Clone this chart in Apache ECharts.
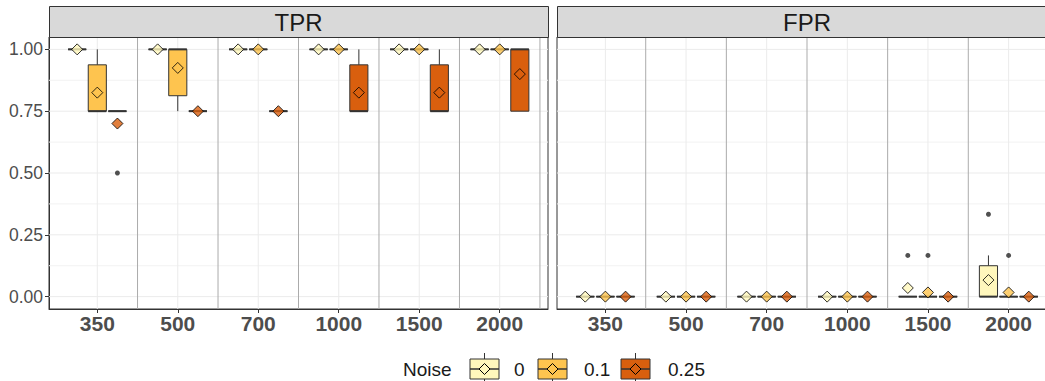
<!DOCTYPE html>
<html>
<head>
<meta charset="utf-8">
<script src="https://cdn.jsdelivr.net/npm/echarts@6/dist/echarts.min.js"></script>
<style>
  html, body { margin: 0; padding: 0; background: #fff; }
  #chart { width: 1045px; height: 381px; }
</style>
</head>
<body>
<div id="chart"></div>
<script>
// ---------------- data ----------------
const categories = ['350', '500', '700', '1000', '1500', '2000'];
const noiseLevels = ['0', '0.1', '0.25'];
const panelTitles = ['TPR', 'FPR'];
const yTicks = [0, 0.25, 0.5, 0.75, 1];
const yMinorTicks = [0.125, 0.375, 0.625, 0.875];
const noiseColors = ['#FFF7BC', '#FEC44F', '#D95F0E'];

// box stats per category: [lower whisker, Q1, median, Q3, upper whisker]
const tprBoxNoise0 = [[1,1,1,1,1],[1,1,1,1,1],[1,1,1,1,1],[1,1,1,1,1],[1,1,1,1,1],[1,1,1,1,1]];
const tprBoxNoise01 = [[0.75,0.75,0.75,0.9375,1],[0.75,0.8125,1,1,1],[1,1,1,1,1],[1,1,1,1,1],[1,1,1,1,1],[1,1,1,1,1]];
const tprBoxNoise025 = [[0.75,0.75,0.75,0.75,0.75],[0.75,0.75,0.75,0.75,0.75],[0.75,0.75,0.75,0.75,0.75],[0.75,0.75,0.75,0.9375,1],[0.75,0.75,0.75,0.9375,1],[0.75,0.75,1,1,1]];
const tprMeanNoise0 = [1, 1, 1, 1, 1, 1];
const tprMeanNoise01 = [0.825, 0.925, 1, 1, 1, 1];
const tprMeanNoise025 = [0.7, 0.75, 0.75, 0.825, 0.825, 0.9];
// outliers: [category, noise, value]
const tprOutliers = [['350', '0.25', 0.5]];

const fprBoxNoise0 = [[0,0,0,0,0],[0,0,0,0,0],[0,0,0,0,0],[0,0,0,0,0],[0,0,0,0,0],[0,0,0,0.125,0.1667]];
const fprBoxNoise01 = [[0,0,0,0,0],[0,0,0,0,0],[0,0,0,0,0],[0,0,0,0,0],[0,0,0,0,0],[0,0,0,0,0]];
const fprBoxNoise025 = [[0,0,0,0,0],[0,0,0,0,0],[0,0,0,0,0],[0,0,0,0,0],[0,0,0,0,0],[0,0,0,0,0]];
const fprMeanNoise0 = [0, 0, 0, 0, 0.035, 0.067];
const fprMeanNoise01 = [0, 0, 0, 0, 0.017, 0.017];
const fprMeanNoise025 = [0, 0, 0, 0, 0, 0];
const fprOutliers = [['1500', '0', 0.1667], ['1500', '0.1', 0.1667], ['2000', '0', 0.3333], ['2000', '0.1', 0.1667]];

// ---------------- layout ----------------
const FONT = '"Liberation Sans", Arial, sans-serif';
const DODGE = 0.25;
const BOX_W = 0.225;
const panels = [
  { box: [tprBoxNoise0, tprBoxNoise01, tprBoxNoise025], mean: [tprMeanNoise0, tprMeanNoise01, tprMeanNoise025], out: tprOutliers },
  { box: [fprBoxNoise0, fprBoxNoise01, fprBoxNoise025], mean: [fprMeanNoise0, fprMeanNoise01, fprMeanNoise025], out: fprOutliers }
];
const gridDefs = [
  { left: 49, top: 37, width: 499, height: 272 },
  { left: 557, top: 37, width: 500, height: 272 }
];
const catPos = (ci) => ci + 1;
const grpPos = (ci, gi) => catPos(ci) + (gi - 1) * DODGE;

function hLineRender(params, api) {
  const cs = params.coordSys;
  const y = api.coord([1, api.value(1)])[1];
  return { type: 'line', shape: { x1: cs.x, y1: y, x2: cs.x + cs.width, y2: y },
    style: { stroke: api.visual('color'), lineWidth: 1 } };
}
function vLineRender(params, api) {
  const cs = params.coordSys;
  const x = api.coord([api.value(0), 0])[0];
  return { type: 'line', shape: { x1: x, y1: cs.y, x2: x, y2: cs.y + cs.height },
    style: { stroke: api.visual('color'), lineWidth: 1 } };
}
function boxRender(params, api) {
  const x = api.value(0);
  const c = (v) => api.coord([x, v]);
  const pLo = c(api.value(1)), pQ1 = c(api.value(2)), pMed = c(api.value(3)), pQ3 = c(api.value(4)), pHi = c(api.value(5));
  const w = api.size([BOX_W, 0])[0];
  const cx = pQ1[0], left = cx - w / 2;
  return { type: 'group', children: [
    { type: 'line', shape: { x1: cx, y1: pLo[1], x2: cx, y2: pQ1[1] }, style: { stroke: '#333', lineWidth: 1 } },
    { type: 'line', shape: { x1: cx, y1: pQ3[1], x2: cx, y2: pHi[1] }, style: { stroke: '#333', lineWidth: 1 } },
    { type: 'rect', shape: { x: left, y: pQ3[1], width: w, height: pQ1[1] - pQ3[1] },
      style: { fill: api.visual('color'), stroke: '#333', lineWidth: 1 } },
    { type: 'line', shape: { x1: left, y1: pMed[1], x2: left + w, y2: pMed[1] }, style: { stroke: '#333', lineWidth: 2 } }
  ] };
}

const grids = [], xAxes = [], yAxes = [], series = [], graphics = [];
panels.forEach((p, pi) => {
  const g = gridDefs[pi];
  grids.push(Object.assign({ show: true, borderColor: '#333', borderWidth: 1, backgroundColor: '#fff',
    containLabel: false, outerBoundsMode: 'none' }, g));
  xAxes.push({
    type: 'value', gridIndex: pi, min: 0.4, max: 6.6,
    axisLine: { show: true, onZero: false, lineStyle: { color: '#333', width: 1 } },
    axisTick: { show: true, length: 4, lineStyle: { color: '#333' }, customValues: categories.map((c, i) => catPos(i)) },
    axisLabel: { show: true, customValues: categories.map((c, i) => catPos(i)),
      formatter: (v) => categories[Math.round(v) - 1] || '',
      color: '#4D4D4D', fontSize: 21, fontWeight: 'bold', fontFamily: FONT, margin: 4 },
    splitLine: { show: false }
  });
  yAxes.push({
    type: 'value', gridIndex: pi, min: -0.05, max: 1.05,
    axisLine: { show: pi === 0, onZero: false, lineStyle: { color: '#333', width: 1 } },
    axisTick: { show: pi === 0, length: 4, lineStyle: { color: '#333' }, customValues: yTicks },
    axisLabel: { show: pi === 0, customValues: yTicks, formatter: (v) => v.toFixed(2),
      color: '#4D4D4D', fontSize: 17.5, fontFamily: FONT, margin: 6 },
    splitLine: { show: false }
  });
  // grid lines
  series.push({ type: 'custom', xAxisIndex: pi, yAxisIndex: pi, z: 1, silent: true,
    itemStyle: { color: '#F2F2F2' }, renderItem: hLineRender, encode: { x: 0, y: 1 },
    data: yMinorTicks.map(v => [1, v]) });
  series.push({ type: 'custom', xAxisIndex: pi, yAxisIndex: pi, z: 1, silent: true,
    itemStyle: { color: '#EBEBEB' }, renderItem: hLineRender, encode: { x: 0, y: 1 },
    data: yTicks.map(v => [1, v]) });
  series.push({ type: 'custom', xAxisIndex: pi, yAxisIndex: pi, z: 1, silent: true,
    itemStyle: { color: '#EBEBEB' }, renderItem: vLineRender, encode: { x: 0, y: 1 },
    data: categories.map((c, i) => [catPos(i), 0]) });
  // separators between categories
  series.push({ type: 'custom', xAxisIndex: pi, yAxisIndex: pi, z: 2, silent: true,
    itemStyle: { color: '#ABABAB' }, renderItem: vLineRender, encode: { x: 0, y: 1 },
    data: categories.map((c, i) => [catPos(i) + 0.5, 0]) });
  // boxes
  noiseLevels.forEach((nl, gi) => {
    series.push({ type: 'custom', name: nl, xAxisIndex: pi, yAxisIndex: pi, z: 3, silent: true,
      itemStyle: { color: noiseColors[gi] }, renderItem: boxRender,
      encode: { x: 0, y: [1, 2, 3, 4, 5] },
      data: p.box[gi].map((b, ci) => [grpPos(ci, gi)].concat(b)) });
  });
  // outliers
  series.push({ type: 'scatter', xAxisIndex: pi, yAxisIndex: pi, z: 4, silent: true,
    symbol: 'circle', symbolSize: 5, itemStyle: { color: '#262626' },
    data: p.out.map(o => [grpPos(categories.indexOf(o[0]), noiseLevels.indexOf(o[1])), o[2]]) });
  // means
  noiseLevels.forEach((nl, gi) => {
    series.push({ type: 'scatter', xAxisIndex: pi, yAxisIndex: pi, z: 5, silent: true,
      symbol: 'diamond', symbolSize: 11,
      itemStyle: { color: noiseColors[gi], borderColor: '#000', borderWidth: 1 },
      data: p.mean[gi].map((m, ci) => [grpPos(ci, gi), m]) });
  });
  // strip
  graphics.push({ type: 'rect', left: g.left, top: 6, z: 10,
    shape: { width: g.width, height: 31 },
    style: { fill: '#D9D9D9', stroke: '#333', lineWidth: 1 } });
  graphics.push({ type: 'text', z: 11, x: g.left + g.width / 2, y: 22,
    style: { text: panelTitles[pi], fill: '#1A1A1A', font: '24px ' + FONT, textAlign: 'center', textVerticalAlign: 'middle' } });
});

// legend
const LEG_Y = 369;
graphics.push({ type: 'text', x: 403, y: LEG_Y, style: { text: 'Noise', fill: '#1A1A1A', font: '19px ' + FONT, textVerticalAlign: 'middle' } });
const legKeyX = [470, 538, 621];
const legTextX = [514, 584, 668];
noiseLevels.forEach((nl, gi) => {
  const kx = legKeyX[gi], cx = kx + 14.5;
  graphics.push({ type: 'line', shape: { x1: cx, y1: LEG_Y - 16, x2: cx, y2: LEG_Y + 16 }, style: { stroke: '#333', lineWidth: 1 } });
  graphics.push({ type: 'rect', shape: { x: kx, y: LEG_Y - 10, width: 29, height: 20 }, style: { fill: noiseColors[gi], stroke: '#333', lineWidth: 1 } });
  graphics.push({ type: 'line', shape: { x1: kx, y1: LEG_Y, x2: kx + 29, y2: LEG_Y }, style: { stroke: '#333', lineWidth: 1.5 } });
  graphics.push({ type: 'polygon', shape: { points: [[cx, LEG_Y - 5.5], [cx + 5.5, LEG_Y], [cx, LEG_Y + 5.5], [cx - 5.5, LEG_Y]] },
    style: { fill: noiseColors[gi], stroke: '#000', lineWidth: 1 } });
  graphics.push({ type: 'text', x: legTextX[gi], y: LEG_Y, style: { text: nl, fill: '#1A1A1A', font: '19px ' + FONT, textVerticalAlign: 'middle' } });
});

const chart = echarts.init(document.getElementById('chart'), null, { renderer: 'svg' });
chart.setOption({
  animation: false,
  backgroundColor: '#fff',
  grid: grids, xAxis: xAxes, yAxis: yAxes, series: series, graphic: graphics
});
</script>
</body>
</html>
